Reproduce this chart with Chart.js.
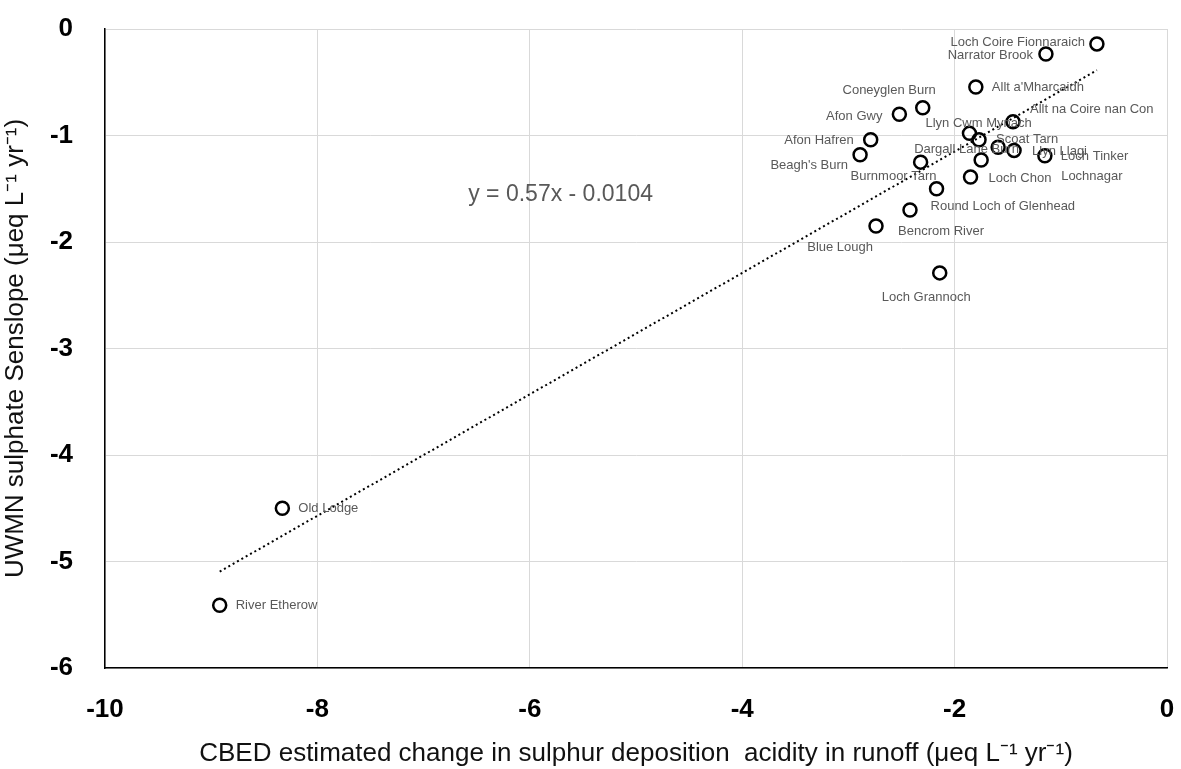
<!DOCTYPE html>
<html>
<head>
<meta charset="utf-8">
<script src="https://cdn.jsdelivr.net/npm/chart.js@4.4.1/dist/chart.umd.min.js"></script>
<style>
html,body{margin:0;padding:0;background:#fff;}
#wrap{width:1181px;height:769px;position:relative;}
</style>
</head>
<body>
<div id="wrap"><canvas id="c" width="1181" height="769"></canvas></div>
<script>
// ---- data ----
const siteNames = ["Loch Coire Fionnaraich","Narrator Brook","Allt a'Mharcaidh","Coneyglen Burn","Afon Gwy",
  "Allt na Coire nan Con","Llyn Cwm Mynach","Scoat Tarn","Afon Hafren","Dargall Lane Burn","Llyn Llagi",
  "Loch Tinker","Beagh's Burn","Burnmoor Tarn","Lochnagar","Loch Chon","Round Loch of Glenhead",
  "Bencrom River","Blue Lough","Loch Grannoch","Old Lodge","River Etherow"];
const cbedChange = [-0.66,-1.14,-1.80,-2.30,-2.52,-1.45,-1.86,-1.77,-2.79,-1.59,-1.44,-1.15,-2.89,-2.32,-1.75,-1.85,-2.17,-2.42,-2.74,-2.14,-8.33,-8.92];
const sulphateSlope = [-0.14,-0.235,-0.545,-0.74,-0.80,-0.87,-0.98,-1.04,-1.04,-1.11,-1.14,-1.19,-1.18,-1.25,-1.23,-1.39,-1.50,-1.70,-1.85,-2.29,-4.50,-5.41];
const trendSlope = 0.57;
const trendIntercept = -0.0104;
const xTicks = [-10,-8,-6,-4,-2,0];
const yTicks = [0,-1,-2,-3,-4,-5,-6];
const equationText = "y = 0.57x - 0.0104";

// ---- label placement (pixel offsets, style only) ----
const labelPlacement = {
  "Loch Coire Fionnaraich":[-12,-1,"right"],
  "Narrator Brook":[-13,1,"right"],
  "Allt a'Mharcaidh":[16,0,"left"],
  "Coneyglen Burn":[13,-17,"right"],
  "Afon Gwy":[-17,2,"right"],
  "Allt na Coire nan Con":[17,-12,"left"],
  "Llyn Cwm Mynach":[-44,-10,"left"],
  "Scoat Tarn":[17,0,"left"],
  "Afon Hafren":[-17,1,"right"],
  "Dargall Lane Burn":[-84,2,"left"],
  "Llyn Llagi":[18,1,"left"],
  "Loch Tinker":[16,1,"left"],
  "Beagh's Burn":[-12,11,"right"],
  "Burnmoor Tarn":[-70,14,"left"],
  "Lochnagar":[80,16,"left"],
  "Loch Chon":[18,1,"left"],
  "Round Loch of Glenhead":[-6,18,"left"],
  "Bencrom River":[-12,21,"left"],
  "Blue Lough":[-3,21,"right"],
  "Loch Grannoch":[-58,25,"left"],
  "Old Lodge":[16,0,"left"],
  "River Etherow":[16,0,"left"]
};

const points = cbedChange.map((x,i)=>({x:x,y:sulphateSlope[i]}));
const xMin = Math.min(...cbedChange), xMax = Math.max(...cbedChange);
const trendPts = [xMin, xMax].map(x=>({x:x, y:trendSlope*x+trendIntercept}));

const FONT = "'Liberation Sans',Arial,sans-serif";

const labelPlugin = {
  id:'siteLabels',
  afterDatasetsDraw(chart){
    const ctx = chart.ctx;
    const meta = chart.getDatasetMeta(1);
    ctx.save();
    ctx.font = "13px " + FONT;
    ctx.fillStyle = "#595959";
    ctx.textBaseline = "middle";
    meta.data.forEach((el,i)=>{
      const p = labelPlacement[siteNames[i]] || [12,0,"left"];
      ctx.textAlign = p[2];
      ctx.fillText(siteNames[i], el.x + p[0], el.y + p[1]);
    });
    // equation
    ctx.font = "23px " + FONT;
    ctx.textAlign = "left";
    const xs = chart.scales.x, ys = chart.scales.y;
    ctx.fillText(equationText, xs.getPixelForValue(-6.58), ys.getPixelForValue(-1.555));
    ctx.restore();
  }
};

new Chart(document.getElementById('c'), {
  type:'scatter',
  data:{
    datasets:[
      {
        type:'line',
        data:trendPts,
        borderColor:'#000',
        borderWidth:2,
        borderDash:[2,3],
        pointRadius:0,
        fill:false,
        order:2
      },
      {
        data:points,
        pointStyle:'circle',
        pointRadius:6.5,
        pointBorderWidth:2.5,
        pointBorderColor:'#000',
        pointBackgroundColor:'rgba(255,255,255,0)',
        order:1
      }
    ]
  },
  options:{
    responsive:false,
    animation:false,
    layout:{padding:{top:29,right:14,left:0,bottom:0}},
    plugins:{legend:{display:false},tooltip:{enabled:false}},
    scales:{
      x:{
        type:'linear', min:-10, max:0,
        afterBuildTicks(s){ s.ticks = xTicks.map(v=>({value:v})); },
        afterFit(s){ s.height = 769-668; s.paddingLeft = 0; s.paddingRight = 0; },
        grid:{color:'#d9d9d9', lineWidth:1, drawTicks:false},
        border:{color:'#000', width:1.5},
        ticks:{font:{family:FONT, size:26, weight:'bold'}, color:'#000', padding:26},
        title:{display:true, text:'CBED estimated change in sulphur deposition  acidity in runoff (\u03bceq L\u207b\u00b9 yr\u207b\u00b9)',
          font:{family:FONT, size:26}, color:'#111', padding:{top:0,bottom:0}}
      },
      y:{
        type:'linear', min:-6, max:0,
        afterBuildTicks(s){ s.ticks = yTicks.map(v=>({value:v})); },
        afterFit(s){ s.width = 105; s.paddingTop = 0; s.paddingBottom = 0; },
        grid:{color:'#d9d9d9', lineWidth:1, drawTicks:false},
        border:{color:'#000', width:1.5},
        ticks:{font:{family:FONT, size:26, weight:'bold'}, color:'#000', padding:32},
        title:{display:true, text:'UWMN sulphate Senslope (\u03bceq L\u207b\u00b9 yr\u207b\u00b9)',
          font:{family:FONT, size:26}, color:'#111', padding:{top:0,bottom:0}}
      }
    }
  },
  plugins:[labelPlugin]
});
</script>
</body>
</html>
